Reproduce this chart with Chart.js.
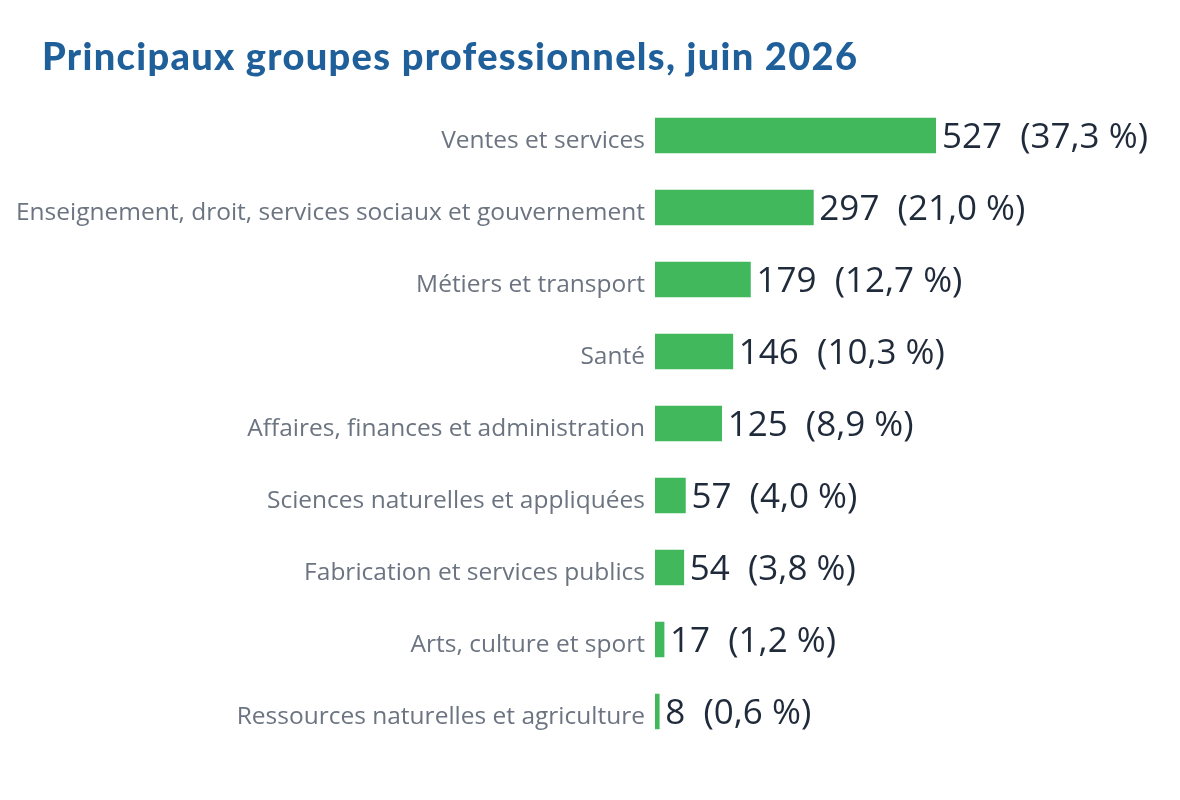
<!DOCTYPE html>
<html>
<head>
<meta charset="utf-8">
<script src="https://cdn.jsdelivr.net/npm/chart.js@4.4.1/dist/chart.umd.min.js"></script>
<style>
  html, body { margin: 0; padding: 0; background: #ffffff; }
  #wrap { position: relative; width: 1180px; height: 800px; }
  #title { position: absolute; left: 42px; top: 36px; font-family: Lato, sans-serif; font-weight: 900; font-size: 38px; color: #1f5f9a; white-space: nowrap; line-height: 1; letter-spacing: 1.3px; }
  canvas { position: absolute; left: 0; top: 0; }
</style>
</head>
<body>
<div id="wrap">
  <canvas id="c" width="1180" height="800"></canvas>
  <div id="title">Principaux groupes professionnels, juin 2026</div>
</div>
<script>
const categories = [
  "Ventes et services",
  "Enseignement, droit, services sociaux et gouvernement",
  "Métiers et transport",
  "Santé",
  "Affaires, finances et administration",
  "Sciences naturelles et appliquées",
  "Fabrication et services publics",
  "Arts, culture et sport",
  "Ressources naturelles et agriculture"
];
const values = [527, 297, 179, 146, 125, 57, 54, 17, 8];
const percents = ["37,3", "21,0", "12,7", "10,3", "8,9", "4,0", "3,8", "1,2", "0,6"];

const valueLabels = {
  id: 'valueLabels',
  afterDatasetsDraw(chart) {
    const ctx = chart.ctx;
    const meta = chart.getDatasetMeta(0);
    ctx.save();
    ctx.font = '35px "Open Sans"';
    ctx.fillStyle = '#1f2a3a';
    ctx.textAlign = 'left';
    ctx.textBaseline = 'alphabetic';
    meta.data.forEach((bar, i) => {
      const txt = values[i] + '  (' + percents[i] + ' %)';
      ctx.fillText(txt, bar.x + 6, bar.y + 12.5);
    });
    ctx.restore();
  }
};

new Chart(document.getElementById('c'), {
  type: 'bar',
  data: {
    labels: categories,
    datasets: [{
      data: values,
      backgroundColor: '#42b85c',
      borderWidth: 0,
      barThickness: 35
    }]
  },
  options: {
    indexAxis: 'y',
    responsive: false,
    animation: false,
    devicePixelRatio: 1,
    layout: { padding: { top: 99.5, right: 244, bottom: 52.5, left: 0 } },
    plugins: { legend: { display: false }, tooltip: { enabled: false }, title: { display: false } },
    scales: {
      x: { display: false, min: 0, max: 527 },
      y: {
        grid: { display: false, drawTicks: false },
        border: { display: false },
        ticks: { padding: 10, labelOffset: 6, color: '#6b7480', font: { family: 'Open Sans', size: 24.5 } },
        afterFit(scale) { scale.width = 655; }
      }
    }
  },
  plugins: [valueLabels]
});
</script>
</body>
</html>
